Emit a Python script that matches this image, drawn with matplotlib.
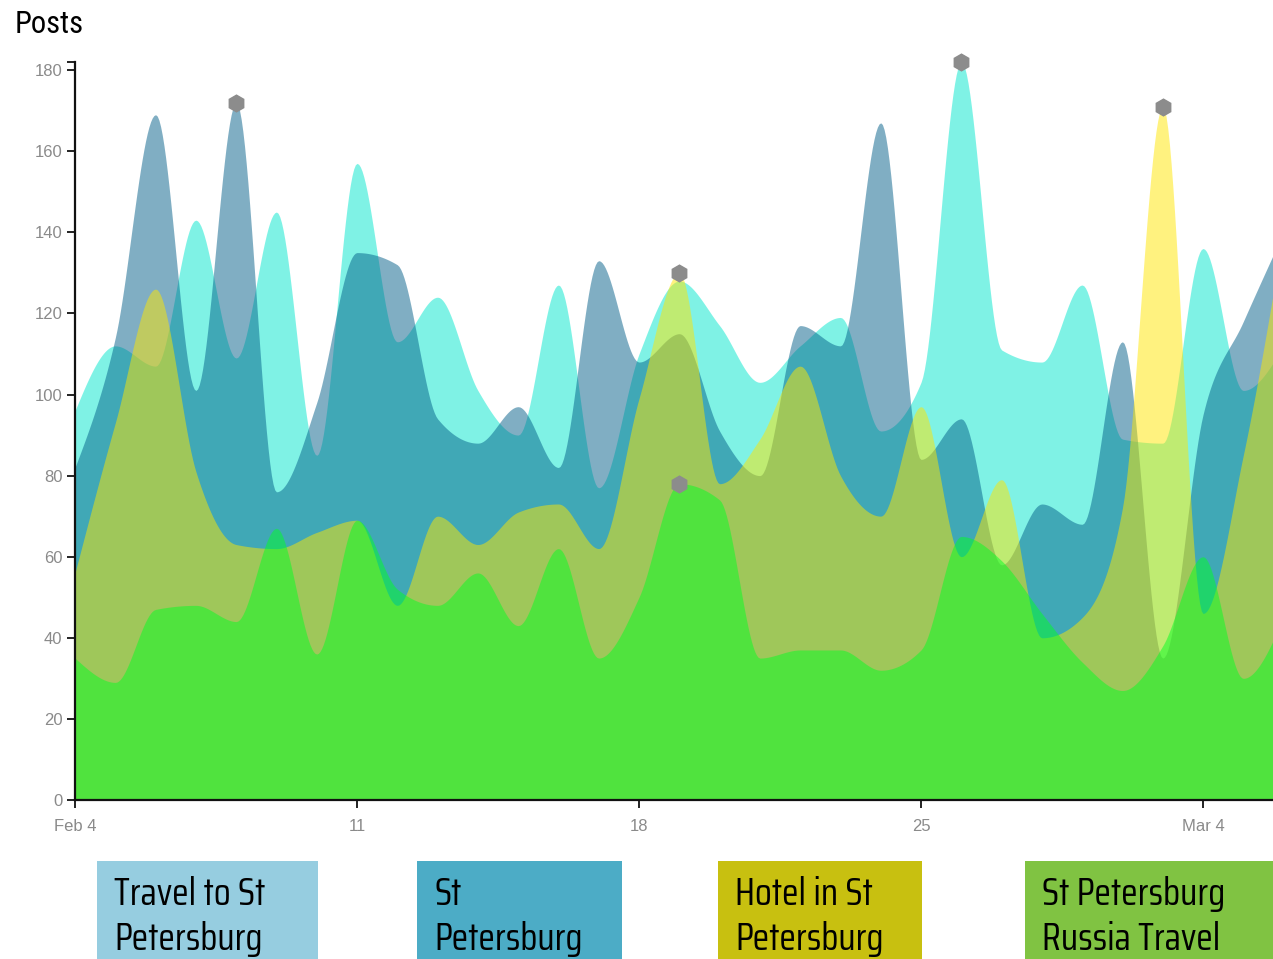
import numpy as np
import matplotlib
matplotlib.use('Agg')
import matplotlib.pyplot as plt
from matplotlib import font_manager
from matplotlib.patches import Rectangle

# daily posts, Feb 4 -> Mar 6
days = np.arange(31)
travel = [96, 112, 107, 143, 109, 145, 85, 157, 113, 124, 101, 90, 127, 77, 110, 128,
          117, 103, 112, 119, 91, 103, 182, 111, 108, 127, 89, 88, 136, 101, 112]
stpete = [82, 114, 169, 101, 172, 76, 98, 135, 132, 94, 88, 97, 82, 133, 108, 115,
          91, 80, 117, 112, 167, 84, 94, 58, 73, 68, 113, 35, 95, 118, 140]
hotel = [56, 93, 126, 81, 63, 62, 66, 69, 48, 70, 63, 71, 73, 62, 99, 130,
         78, 89, 107, 80, 70, 97, 60, 79, 40, 45, 72, 171, 46, 85, 140]
russia = [35, 29, 47, 48, 44, 67, 36, 69, 52, 48, 56, 43, 62, 35, 50, 78,
          74, 35, 37, 37, 32, 37, 65, 59, 46, 34, 27, 38, 60, 30, 45]

series = [travel, stpete, hotel, russia]
area_colors = ['#00e7cd', '#035f89', '#ffe600', '#02ff24']
legend_labels = ['Travel to St\nPetersburg', 'St\nPetersburg', 'Hotel in St\nPetersburg', 'St Petersburg\nRussia Travel']
legend_colors = ['#96cde0', '#4cacc6', '#c8c010', '#80c342']
# (series index, day) of the highlighted points
highlights = [(1, 4), (2, 15), (3, 15), (0, 22), (2, 27)]

xtick_days = [0, 7, 14, 21, 28]
xtick_labels = ['Feb 4', '11', '18', '25', 'Mar 4']
ytick_vals = [0, 20, 40, 60, 80, 100, 120, 140, 160, 180]


def monotone_curve(y, steps=24):
    # monotone cubic (like d3.curveMonotoneX), unit spacing
    y = np.asarray(y, float)
    n = len(y)
    s = np.diff(y)
    t = np.zeros(n)
    for i in range(1, n - 1):
        s0, s1 = s[i - 1], s[i]
        p = (s0 + s1) / 2
        sg0 = -1 if s0 < 0 else 1
        sg1 = -1 if s1 < 0 else 1
        t[i] = (sg0 + sg1) * min(abs(s0), abs(s1), 0.5 * abs(p))
    t[0] = (3 * s[0] - t[1]) / 2
    t[-1] = (3 * s[-1] - t[-2]) / 2
    xs, ys = [], []
    u = np.linspace(0, 1, steps, endpoint=False)
    h00 = 2 * u**3 - 3 * u**2 + 1
    h10 = u**3 - 2 * u**2 + u
    h01 = -2 * u**3 + 3 * u**2
    h11 = u**3 - u**2
    for i in range(n - 1):
        xs.append(i + u)
        ys.append(h00 * y[i] + h10 * t[i] + h01 * y[i + 1] + h11 * t[i + 1])
    xs.append([n - 1])
    ys.append([y[-1]])
    return np.concatenate(xs), np.concatenate(ys)


def pick(cands):
    names = {f.name for f in font_manager.fontManager.ttflist}
    for c in cands:
        if c in names:
            return c
    return 'DejaVu Sans'


narrow = pick(['Saira Condensed', 'Encode Sans Condensed', 'Roboto Condensed', 'PT Sans Narrow',
               'Archivo Narrow', 'Liberation Sans Narrow'])
plain = pick(['Liberation Sans', 'Arimo', 'Roboto'])
title_font = pick(['Roboto Condensed', 'Archivo Narrow', 'PT Sans Narrow', 'Liberation Sans'])

fig = plt.figure(figsize=(12.73, 9.59), dpi=100)
ax = fig.add_axes([75 / 1273, 159 / 959, 1198 / 1273, 738 / 959])

for vals, col in zip(series, area_colors):
    cx, cy = monotone_curve(vals)
    ax.fill_between(cx, 0, cy, color=col, alpha=0.5, lw=0)

for si, d in highlights:
    ax.plot(days[d], series[si][d], marker='h', ms=12, color='#8c8c8c', clip_on=False, zorder=5)

ax.set_xlim(0, 1198 / (1128 / 28))
ax.set_ylim(0, 182)
ax.set_xticks(xtick_days)
ax.set_xticklabels(xtick_labels)
ax.set_yticks(ytick_vals + [182])
ax.set_yticklabels([str(v) for v in ytick_vals] + [''])
ax.tick_params(axis='both', length=6, width=1.3, color='#111111', labelcolor='#8a8a8a',
               labelsize=12)
ax.tick_params(axis='y', pad=3)
ax.tick_params(axis='x', pad=8)
for lab in ax.get_xticklabels() + ax.get_yticklabels():
    lab.set_family(plain)
for side in ['top', 'right']:
    ax.spines[side].set_visible(False)
for side in ['left', 'bottom']:
    ax.spines[side].set_linewidth(1.6)
    ax.spines[side].set_color('#111111')

fig.text(15 / 1273, 1 - 33 / 959, 'Posts', family=title_font, fontsize=22, color='black', va='baseline')

box_left = [97, 417, 718, 1025]
box_width = [221, 205, 204, 260]
for lab, col, bx, bw in zip(legend_labels, legend_colors, box_left, box_width):
    fig.add_artist(Rectangle((bx / 1273, 0), bw / 1273, 98 / 959, transform=fig.transFigure,
                             facecolor=col, edgecolor='none'))
    lines = lab.split('\n')
    for k, line in enumerate(lines):
        fig.text((bx + 17) / 1273, 1 - (905 + 45 * k) / 959, line, family=narrow,
                 fontsize=27.5, color='black', va='baseline')

fig.savefig('out.png', dpi=100)
